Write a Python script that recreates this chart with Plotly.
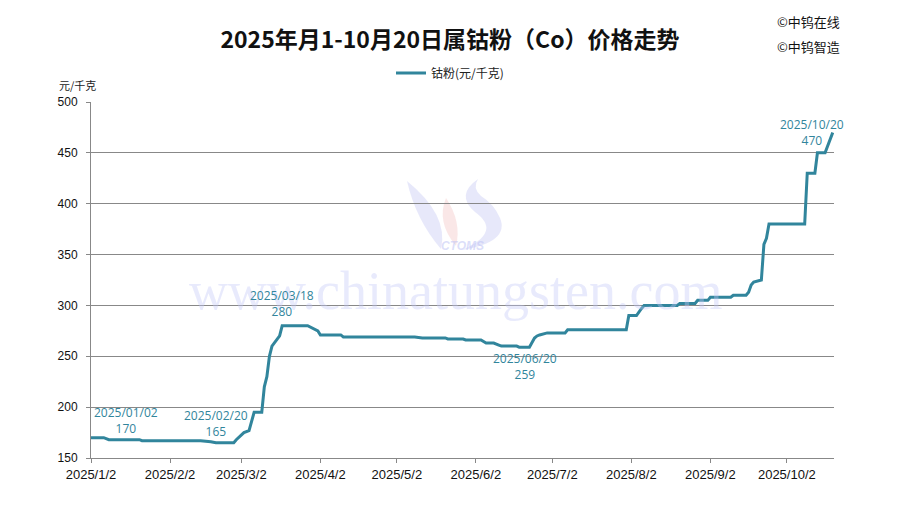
import plotly.graph_objects as go

# ---------------- data ----------------
dates = [
    "2025-01-02", "2025-01-07", "2025-01-09", "2025-01-21", "2025-01-22",
    "2025-02-14", "2025-02-18", "2025-02-20", "2025-02-27", "2025-02-28",
    "2025-03-03", "2025-03-04", "2025-03-05", "2025-03-07", "2025-03-10",
    "2025-03-11", "2025-03-12", "2025-03-13", "2025-03-14", "2025-03-17",
    "2025-03-18", "2025-03-28", "2025-03-31", "2025-04-01", "2025-04-02",
    "2025-04-10", "2025-04-11", "2025-05-09", "2025-05-12", "2025-05-21",
    "2025-05-22", "2025-05-28", "2025-05-29", "2025-06-04", "2025-06-06",
    "2025-06-09", "2025-06-11", "2025-06-12", "2025-06-18", "2025-06-19",
    "2025-06-20", "2025-06-23", "2025-06-25", "2025-06-26", "2025-06-27",
    "2025-06-30", "2025-07-07", "2025-07-08", "2025-07-31", "2025-08-01",
    "2025-08-04", "2025-08-05", "2025-08-06", "2025-08-07", "2025-08-20",
    "2025-08-21", "2025-08-27", "2025-08-28", "2025-09-01", "2025-09-02",
    "2025-09-10", "2025-09-11", "2025-09-16", "2025-09-17", "2025-09-18",
    "2025-09-19", "2025-09-22", "2025-09-23", "2025-09-24", "2025-09-25",
    "2025-10-09", "2025-10-10", "2025-10-13", "2025-10-14", "2025-10-17",
    "2025-10-20",
]
prices = [
    170, 170, 168, 168, 167,
    167, 166, 165, 165, 168,
    175, 176, 177, 195, 195,
    220, 230, 250, 260, 270,
    280, 280, 276, 275, 271,
    271, 269, 269, 268, 268,
    267, 267, 266, 266, 263,
    263, 261, 260, 260, 259,
    259, 259, 268, 270, 271,
    273, 273, 276, 276, 290,
    290, 294, 297, 300, 300,
    302, 302, 305, 305, 308,
    308, 310, 310, 313, 320,
    323, 325, 360, 366, 380,
    380, 430, 430, 450, 450,
    470,
]

tick_dates = ["2025-01-02", "2025-02-02", "2025-03-02", "2025-04-02", "2025-05-02",
              "2025-06-02", "2025-07-02", "2025-08-02", "2025-09-02", "2025-10-02"]
tick_labels = ["2025/1/2", "2025/2/2", "2025/3/2", "2025/4/2", "2025/5/2",
               "2025/6/2", "2025/7/2", "2025/8/2", "2025/9/2", "2025/10/2"]

# labelled points: (date, label date, xshift, yshift)
label_points = [
    ("2025-01-02", "2025/01/02", 35, 17),
    ("2025-02-20", "2025/02/20", 0, 19),
    ("2025-03-18", "2025/03/18", 0, 22),
    ("2025-06-20", "2025/06/20", 3, -19),
    ("2025-10-20", "2025/10/20", -21, 0),
]

series_name = "钴粉(元/千克)"
title_text = "2025年月1-10月20日属钴粉（Co）价格走势"
line_color = "#31859C"
grid_color = "#888888"

# ---------------- layout geometry ----------------
L, R, T, B = 91, 66, 102, 47
FW, FH = 900, 505
W = FW - L - R
H = FH - T - B


def px(x):
    return (x - L) / W


def py(y):
    return (FH - B - y) / H


def path(cmds):
    out = []
    for c in cmds:
        if isinstance(c, str):
            out.append(c)
        else:
            out.append(f"{px(c[0]):.4f},{py(c[1]):.4f}")
    return " ".join(out)


fig = go.Figure()
fig.add_trace(go.Scatter(
    x=dates, y=prices, mode="lines", name=series_name,
    line=dict(color=line_color, width=3),
))

annotations = []
# watermark
annotations.append(dict(
    text="www.chinatungsten.com", xref="paper", yref="paper",
    x=px(455), y=py(291), xanchor="center", yanchor="middle", showarrow=False,
    font=dict(family="Liberation Serif", size=54, color="rgba(195,200,248,0.38)"),
))
annotations.append(dict(
    text="<i><b>CTOMS</b></i>", xref="paper", yref="paper",
    x=px(462), y=py(246), xanchor="center", yanchor="middle", showarrow=False,
    font=dict(family="Liberation Sans", size=12, color="rgba(190,195,245,0.55)"),
))

# data labels
value_of = dict(zip(dates, prices))
for d, lab, xs, ys in label_points:
    annotations.append(dict(
        x=d, y=value_of[d], xref="x", yref="y",
        text=f"{lab}<br>{value_of[d]}", showarrow=False,
        xanchor="center", yanchor="middle",
        xshift=xs, yshift=ys, align="center",
        font=dict(family="Open Sans", size=12, color=line_color),
    ))

# copyright + unit
annotations.append(dict(
    text="©中钨在线", xref="paper", yref="paper", x=px(808), y=py(22),
    xanchor="center", yanchor="middle",
    showarrow=False, font=dict(family="Noto Sans CJK SC", size=13, color="#111111"),
))
annotations.append(dict(
    text="©中钨智造", xref="paper", yref="paper", x=px(808), y=py(46),
    xanchor="center", yanchor="middle",
    showarrow=False, font=dict(family="Noto Sans CJK SC", size=13, color="#111111"),
))
annotations.append(dict(
    text="元/千克", xref="paper", yref="paper", x=px(77), y=py(85),
    xanchor="center", yanchor="middle",
    showarrow=False, font=dict(family="Noto Sans CJK SC", size=11, color="#222222"),
))

shapes = [
    dict(type="path", xref="paper", yref="paper", layer="below", line=dict(width=0),
         fillcolor="rgba(185,190,240,0.35)",
         path=path(["M", (407, 181), "Q", (416, 220), (441, 249), "Q", (449, 215), (407, 181), "Z"])),
    dict(type="path", xref="paper", yref="paper", layer="below", line=dict(width=0),
         fillcolor="rgba(240,175,175,0.30)",
         path=path(["M", (446, 198), "Q", (436, 222), (456, 246), "Q", (462, 222), (446, 198), "Z"])),
    dict(type="path", xref="paper", yref="paper", layer="below", line=dict(width=0),
         fillcolor="rgba(185,190,240,0.35)",
         path=path(["M", (478, 179), "Q", (455, 195), (475, 212), "Q", (503, 232), (462, 250),
                    "Q", (510, 242), (500, 218), "Q", (494, 204), (481, 196),
                    "Q", (472, 188), (478, 179), "Z"])),
]

fig.update_layout(
    width=FW, height=FH,
    margin=dict(l=L, r=R, t=T, b=B),
    paper_bgcolor="white", plot_bgcolor="white",
    title=dict(text=f"<b>{title_text}</b>", x=0.5, xref="container", xanchor="center",
               y=1 - 40 / FH, yref="container", yanchor="middle",
               font=dict(family="Noto Sans CJK SC", size=23, color="#111111")),
    legend=dict(orientation="h", x=px(450), xanchor="center", y=py(73), yanchor="middle",
                font=dict(family="Noto Sans CJK SC", size=12, color="#222222"),
                bgcolor="rgba(0,0,0,0)"),
    showlegend=True,
    annotations=annotations,
    shapes=shapes,
)

fig.update_xaxes(
    type="date", range=["2025-01-02", "2025-10-20 12:00"],
    tickvals=tick_dates, ticktext=tick_labels,
    ticks="outside", ticklen=4, tickcolor=grid_color,
    showgrid=False, showline=True, linecolor=grid_color, linewidth=1,
    tickfont=dict(family="Liberation Sans", size=13, color="#111111"),
    zeroline=False,
)
fig.update_yaxes(
    range=[150, 500], dtick=50, tick0=150,
    ticks="outside", ticklen=4, tickcolor=grid_color,
    showgrid=True, gridcolor=grid_color, gridwidth=1,
    showline=True, linecolor=grid_color, linewidth=1,
    ticklabelstandoff=6,
    tickfont=dict(family="Liberation Sans", size=12, color="#111111"),
    zeroline=False,
)

fig.write_html("out.html")
